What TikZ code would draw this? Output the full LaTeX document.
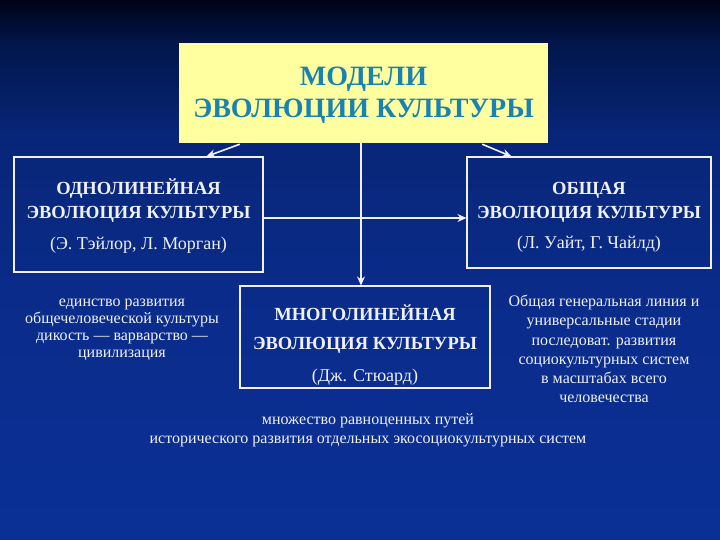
\documentclass[tikz,border=0pt]{standalone}
\usepackage{fontspec}
\setmainfont{LiberationSerif}[Extension=.ttf, UprightFont=*-Regular, BoldFont=*-Bold, ItalicFont=*-Italic, BoldItalicFont=*-BoldItalic]
\usetikzlibrary{calc,arrows.meta}
\definecolor{bgA}{RGB}{0,3,22}
\definecolor{bgB}{RGB}{2,22,75}
\definecolor{bgC}{RGB}{8,38,120}
\definecolor{bgD}{RGB}{10,44,140}
\definecolor{bgE}{RGB}{10,48,150}
\definecolor{titlefill}{RGB}{255,255,160}
\definecolor{titletext}{RGB}{25,130,180}
\definecolor{lighttext}{RGB}{240,240,248}
\pgfdeclareverticalshading{slidebg}{100bp}{color(0bp)=(bgE); color(25bp)=(bgE); color(45bp)=(bgD); color(62.5bp)=(bgC); color(71bp)=(bgB); color(75bp)=(bgA); color(100bp)=(bgA)}
\begin{document}
\begin{tikzpicture}[x=1pt,y=-1pt,
  framebox/.style={draw=lighttext, line width=1.1pt, inner sep=0pt},
  boxtext/.style={align=center, text=lighttext, inner sep=0pt, font=\fontsize{18.5}{24}\selectfont\bfseries},
  plaintext/.style={align=center, text=lighttext, inner sep=0pt},
  conn/.style={draw=lighttext, line width=1.6pt, -{Stealth[length=9pt,width=8pt]}}]
\useasboundingbox (0,0) rectangle (720,540);
\shade[shading=slidebg] (0,0) rectangle (720,540);

\node[fill=titlefill, inner sep=0pt, minimum width=369pt, minimum height=100pt] (title) at (363.5,93) {};
\node[align=center, inner sep=0pt, text=titletext, font=\fontsize{28}{32}\selectfont\bfseries]
  (titletxt) at ($(title)+(0,2)$) {МОДЕЛИ\\ЭВОЛЮЦИИ КУЛЬТУРЫ};

\node[framebox, minimum width=249pt, minimum height=115pt] (left) at (138.5,214.5) {};
\node[boxtext] (lefttxt) at ($(left)+(0,2)$)
  {ОДНОЛИНЕЙНАЯ\\ЭВОЛЮЦИЯ КУЛЬТУРЫ\\[7pt]{\fontsize{18}{24}\selectfont\mdseries(Э. Тэйлор, Л. Морган)}};

\node[framebox, minimum width=244pt, minimum height=111pt] (right) at (589,212.5) {};
\node[boxtext] (righttxt) at ($(right)+(0,5)$)
  {ОБЩАЯ\\ЭВОЛЮЦИЯ КУЛЬТУРЫ\\[6pt]{\fontsize{18}{24}\selectfont\mdseries(Л. Уайт, Г. Чайлд)}};

\node[framebox, minimum width=250pt, minimum height=102pt] (middle) at (365,337) {};
\node[boxtext, font=\fontsize{18.5}{29}\selectfont\bfseries] (middletxt) at ($(middle)+(0,8)$)
  {МНОГОЛИНЕЙНАЯ\\ЭВОЛЮЦИЯ КУЛЬТУРЫ\\[3pt]{\fontsize{18}{29}\selectfont\mdseries(Дж. Стюард)}};

\node[plaintext, font=\fontsize{16}{17}\selectfont] (lefttext) at (122,330)
  {единство развития\\общечеловеческой культуры\\дикость — варварство —\\цивилизация};

\node[plaintext, font=\fontsize{16}{19.2}\selectfont] (righttext) at (604,349)
  {Общая генеральная линия и\\универсальные стадии\\последоват. развития\\социокультурных систем\\в масштабах всего\\человечества};

\node[plaintext, font=\fontsize{16}{19}\selectfont] (bottomtext) at (368,430.5)
  {множество равноценных путей\\исторического развития отдельных экосоциокультурных систем};

\draw[conn] ($(title.south west)+(61,1)$) -- ($(left.north west)+(193,0)$);
\draw[conn] ($(title.south east)+(-66,1)$) -- ($(right.north west)+(45,0)$);
\draw[conn] ($(title.south)+(-2.5,0)$) coordinate (vtop) -- (vtop |- middle.north);
\draw[conn] ($(left.east)+(0,3.5)$) coordinate (hleft) -- (hleft -| right.west);
\end{tikzpicture}
\end{document}
